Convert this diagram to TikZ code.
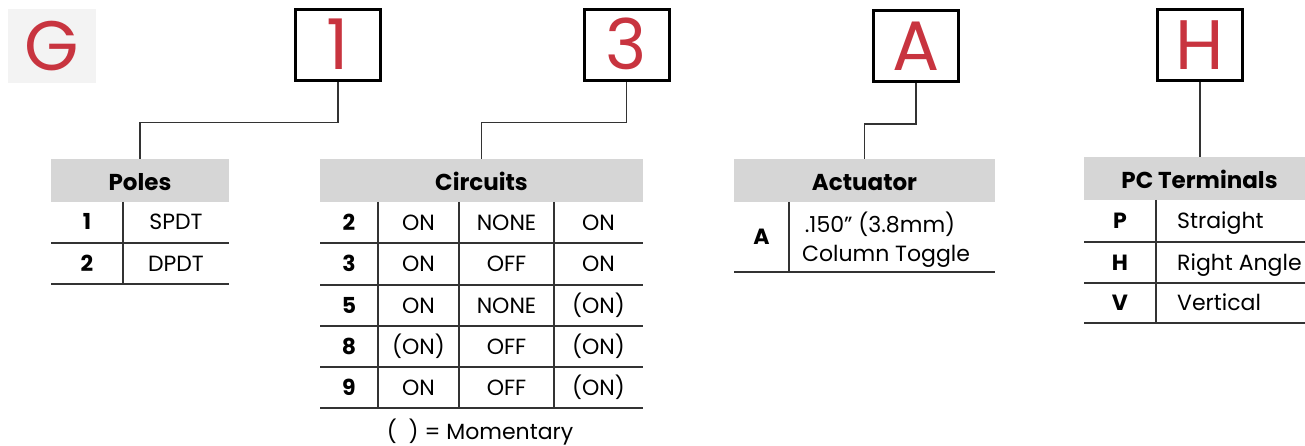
\documentclass[tikz,border=0pt]{standalone}
\usepackage{fontspec}
\setmainfont{Poppins}
\definecolor{brandred}{HTML}{C8343F}
\definecolor{hdrgray}{HTML}{D6D6D6}
\definecolor{gbg}{HTML}{F3F3F3}
\definecolor{rulegray}{HTML}{333333}
\begin{document}
\begin{tikzpicture}[x=1pt,y=-1pt,
  codebox/.style={draw=black, line width=3pt, minimum width=85pt, minimum height=71pt, inner sep=0pt, text=brandred, font=\fontsize{70}{70}\selectfont, text height=49pt, text depth=0pt},
  hdr/.style={fill=hdrgray, minimum height=43pt, inner sep=0pt, font=\fontsize{23}{26}\selectfont\bfseries, text height=20pt, text depth=0pt},
  cell/.style={inner sep=0pt, font=\fontsize{22}{26}\selectfont, text height=15.4pt, text depth=0pt},
  key/.style={cell, font=\fontsize{22}{26}\selectfont\bfseries},
  tline/.style={draw=rulegray, line width=1.6pt},
  wire/.style={draw=rulegray, line width=1.6pt}]
\useasboundingbox (0,0) rectangle (1305,446);

% G tile
\node[fill=gbg, minimum width=88pt, minimum height=74pt, inner sep=0pt, text=brandred, font=\fontsize{70}{70}\selectfont, text height=49pt, text depth=0pt] (gbox) at (52,46) {G};

% code boxes
\node[codebox] (b1) at (338,45.5) {1};
\node[codebox] (b3) at (626.5,45.5) {3};
\node[codebox] (bA) at (916,46) {A};
\node[codebox] (bH) at (1200,45.5) {H};

% headers
\node[hdr, minimum width=178pt] (poles) at (140,180.5) {Poles};
\node[hdr, minimum width=323pt] (circ) at (481.5,180.5) {Circuits};
\node[hdr, minimum width=261pt] (act) at (864.5,180.5) {Actuator};
\node[hdr, minimum width=221pt] (pc) at (1194.5,178.5) {\hspace{10pt}PC Terminals};

% connectors
\draw[wire] (b1.south) -- ++(0,40) -| (poles.north);
\draw[wire] (b3.south) -- ++(0,40) -| (circ.north);
\draw[wire] (bA.south) -- ++(0,41) -| (act.north);
\draw[wire] (bH.south) -- (bH.south |- pc.north);

% Poles table
\draw[tline] (51,243) -- (229,243);
\draw[tline] (51,284) -- (229,284);
\draw[tline] (123,202) -- (123,284);
\node[key] (p1k) at (87,222) {1};
\node[cell] (p1v) at (176,222) {SPDT};
\node[key] (p2k) at (87,263.5) {2};
\node[cell] (p2v) at (176,263.5) {DPDT};

% Circuits table
\foreach \yy in {243,285,326,367,408} \draw[tline] (320,\yy) -- (643,\yy);
\foreach \xx in {378,459,554} \draw[tline] (\xx,202) -- (\xx,408);
\foreach \k/\a/\b/\c/\yy [count=\i] in {2/ON/NONE/ON/222.5, 3/ON/OFF/ON/264, 5/ON/NONE/(ON)/305.5, 8/(ON)/OFF/(ON)/346.5, 9/ON/OFF/(ON)/387.5}{
  \node[key] (ck\i) at (349,\yy) {\k};
  \node[cell] (ca\i) at (418.5,\yy) {\a};
  \node[cell] (cb\i) at (506.5,\yy) {\b};
  \node[cell] (cc\i) at (598.5,\yy) {\c};
}
\node[cell] (note) at (480,432) {(\hspace{12pt}) = Momentary};

% Actuator table
\draw[tline] (734,272) -- (995,272);
\draw[tline] (789,202) -- (789,272);
\node[key] (ak) at (761.5,237) {A};
\node[cell] (av1) at (880,225) {.150” (3.8mm)};
\node[cell] (av2) at (886,254) {Column Toggle};

% PC Terminals table
\foreach \yy in {242,283,323} \draw[tline] (1084,\yy) -- (1305,\yy);
\draw[tline] (1156,200) -- (1156,323);
\foreach \k/\v/\yy [count=\i] in {P/Straight/221, H/Right Angle/262.5, V/Vertical/303}{
  \node[key] (tk\i) at (1120,\yy) {\k};
  \node[cell, anchor=west] (tv\i) at (1177,\yy) {\v};
}
\end{tikzpicture}
\end{document}
